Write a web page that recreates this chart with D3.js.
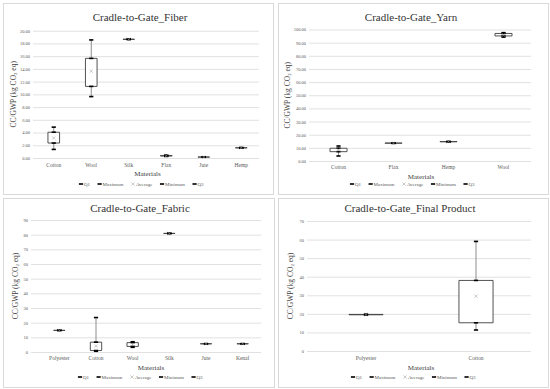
<!DOCTYPE html>
<html><head><meta charset="utf-8">
<script src="https://cdn.jsdelivr.net/npm/d3@7"></script>
<style>
body{margin:0;background:#fff;}
svg{display:block;}
svg text{font-family:"Liberation Serif","Times New Roman",serif !important;}
</style></head>
<body><svg id="c" width="550" height="389"></svg>
<script>
// ---- Data ----
const fiberCats = ["Cotton","Wool","Silk","Flax","Jute","Hemp"];
const fiberMin  = [1.35, 9.65, 18.6, 0.25, 0.12, 1.55];
const fiberQ1   = [2.35, 11.25, 18.65, 0.3, 0.14, 1.58];
const fiberAvg  = [3.15, 13.65, 18.65, 0.35, 0.15, 1.6];
const fiberQ3   = [4.05, 15.65, 18.65, 0.4, 0.16, 1.62];
const fiberMax  = [4.85, 18.55, 18.7, 0.45, 0.18, 1.65];
const fiberTicks = [0,2,4,6,8,10,12,14,16,18,20];

const yarnCats = ["Cotton","Flax","Hemp","Wool"];
const yarnMin  = [3.8, 13.4, 14.5, 94.2];
const yarnQ1   = [7.1, 13.5, 14.6, 95.1];
const yarnAvg  = [8.4, 13.6, 14.7, 95.8];
const yarnQ3   = [9.7, 13.7, 14.8, 97.0];
const yarnMax  = [11.4, 13.8, 14.9, 97.6];
const yarnTicks = [0,10,20,30,40,50,60,70,80,90,100];

const fabricCats = ["Polyester","Cotton","Wool","Silk","Jute","Kenaf"];
const fabricMin  = [14.6, 0.5, 3.2, 80.7, 5.5, 5.5];
const fabricQ1   = [14.7, 1.0, 3.8, 80.8, 5.55, 5.55];
const fabricAvg  = [14.7, 4.0, 5.0, 80.8, 5.6, 5.6];
const fabricQ3   = [14.8, 6.7, 6.4, 80.9, 5.65, 5.65];
const fabricMax  = [14.9, 23.5, 7.0, 81.0, 5.7, 5.7];
const fabricTicks = [0,10,20,30,40,50,60,70,80,90];

const finalCats = ["Polyester","Cotton"];
const finalMin  = [19.4, 11.3];
const finalQ1   = [19.5, 15.2];
const finalAvg  = [19.6, 29.5];
const finalQ3   = [19.7, 38.0];
const finalMax  = [19.8, 59.0];
const finalTicks = [0,10,20,30,40,50,60,70];

const legendItems = ["Q1","Maximum","Average","Minimum","Q3"];

// ---- Panels (layout) ----
const panels = [
  {title:"Cradle-to-Gate_Fiber", cats:fiberCats, mn:fiberMin, q1:fiberQ1, avg:fiberAvg, q3:fiberQ3, mx:fiberMax,
   ticks:fiberTicks, fmt:d3.format(".2f"), frame:[3,3,270,191],
   gridX:[33,259], bandX:[35,260], yR:[158,30.7], titleX:140, titleY:17, ytX:13, xlabY:166, matY:174, legY:184, legCx:141},
  {title:"Cradle-to-Gate_Yarn", cats:yarnCats, mn:yarnMin, q1:yarnQ1, avg:yarnAvg, q3:yarnQ3, mx:yarnMax,
   ticks:yarnTicks, fmt:d3.format(".2f"), frame:[278,3,270,191],
   gridX:[309,531], bandX:[311,531], yR:[161,29.5], titleX:411, titleY:17, ytX:287, xlabY:168, matY:177, legY:184, legCx:412},
  {title:"Cradle-to-Gate_Fabric", cats:fabricCats, mn:fabricMin, q1:fabricQ1, avg:fabricAvg, q3:fabricQ3, mx:fabricMax,
   ticks:fabricTicks, fmt:d3.format("d"), frame:[3,198,271,189],
   gridX:[31,261], bandX:[41,261], yR:[352,220], titleX:140, titleY:208, ytX:15, xlabY:359, matY:368, legY:377, legCx:140},
  {title:"Cradle-to-Gate_Final Product", cats:finalCats, mn:finalMin, q1:finalQ1, avg:finalAvg, q3:finalQ3, mx:finalMax,
   ticks:finalTicks, fmt:d3.format("d"), frame:[278,198,270,189],
   gridX:[307,531], bandX:[311,531], yR:[351,221], titleX:410, titleY:208, ytX:290, xlabY:359, matY:368, legY:377, legCx:413}
];

const FONT = "Liberation Serif";
const svg = d3.select("#c");
svg.append("rect").attr("width",550).attr("height",389).attr("fill","#fff");

panels.forEach(p => {
  const g = svg.append("g").attr("font-family",FONT);
  const [fx,fy,fw,fh] = p.frame;
  g.append("rect").attr("x",fx+0.5).attr("y",fy+0.5).attr("width",fw).attr("height",fh)
    .attr("fill","#fff").attr("stroke","#d9d9d9").attr("stroke-width",1);

  const y = d3.scaleLinear().domain([0, d3.max(p.ticks)]).range(p.yR);
  const x = d3.scaleBand().domain(p.cats).range(p.bandX);

  // gridlines + y tick labels
  const ya = d3.axisLeft(y).tickValues(p.ticks).tickFormat(p.fmt)
    .tickSize(-(p.gridX[1]-p.gridX[0])).tickPadding(3);
  const yg = g.append("g").attr("transform",`translate(${p.gridX[0]},0)`).call(ya);
  yg.attr("font-family",FONT);
  yg.select(".domain").remove();
  yg.selectAll(".tick line").attr("stroke","#d9d9d9").attr("stroke-width",0.8);
  yg.selectAll(".tick text").attr("font-size",4.5).attr("fill","#595959");

  // x labels
  const xa = d3.axisBottom(x).tickSize(0).tickPadding(0);
  const xg = g.append("g").attr("transform",`translate(0,${p.xlabY-3})`).call(xa);
  xg.attr("font-family",FONT);
  xg.select(".domain").remove();
  xg.selectAll(".tick text").attr("font-size",5.5).attr("fill","#595959");

  // title
  g.append("text").attr("x",p.titleX).attr("y",p.titleY)
    .attr("text-anchor","middle").attr("dominant-baseline","central")
    .attr("font-size",11).attr("fill","#333").text(p.title);

  // y axis title
  const cy = (p.yR[0]+p.yR[1])/2;
  const yt = g.append("text").attr("transform",`translate(${p.ytX},${cy}) rotate(-90)`)
    .attr("text-anchor","middle").attr("dominant-baseline","central")
    .attr("font-size",7.5).attr("fill","#404040");
  yt.append("tspan").text("CC/GWP (kg CO");
  yt.append("tspan").attr("font-size",4.8).attr("dy",1.6).text("2");
  yt.append("tspan").attr("dy",-1.6).text(" eq)");

  // Materials
  g.append("text").attr("x",(p.bandX[0]+p.bandX[1])/2).attr("y",p.matY)
    .attr("text-anchor","middle").attr("dominant-baseline","central")
    .attr("font-size",7).attr("fill","#404040").text("Materials");

  // boxes
  const bw = x.bandwidth()*0.31;
  p.cats.forEach((c,i) => {
    const cx = x(c) + x.bandwidth()/2;
    g.append("line").attr("x1",cx).attr("x2",cx).attr("y1",y(p.mx[i])).attr("y2",y(p.mn[i]))
      .attr("stroke","#8c8c8c").attr("stroke-width",1);
    const yt3 = y(p.q3[i]), yb1 = y(p.q1[i]);
    g.append("path")
      .attr("d",`M${cx-bw/2},${yt3}H${cx+bw/2}V${yb1}H${cx-bw/2}Z`)
      .attr("fill","#fff").attr("stroke","#404040").attr("stroke-width",0.9);
    [p.q1[i],p.mx[i],p.mn[i],p.q3[i]].forEach(v => {
      g.append("rect").attr("x",cx-2.1).attr("y",y(v)-0.8).attr("width",4.2).attr("height",1.6)
        .attr("fill","#000");
    });
    const ay = y(p.avg[i]);
    g.append("path").attr("d",`M${cx-1.6},${ay-1.6}L${cx+1.6},${ay+1.6}M${cx-1.6},${ay+1.6}L${cx+1.6},${ay-1.6}`)
      .attr("stroke","#a6a6a6").attr("stroke-width",0.6);
  });

  // legend
  const lg = g.append("g");
  let cur = 0;
  legendItems.forEach(name => {
    const it = lg.append("g");
    if (name === "Average") {
      it.append("path").attr("d","M1,-1.6L4.2,1.6M1,1.6L4.2,-1.6").attr("stroke","#a6a6a6").attr("stroke-width",0.6);
    } else {
      it.append("rect").attr("x",0.5).attr("y",-0.8).attr("width",4.2).attr("height",1.6).attr("fill","#000");
    }
    const t = it.append("text").attr("x",5.5).attr("y",0).attr("dominant-baseline","central")
      .attr("font-size",5).attr("fill","#595959").text(name);
    const w = 5.5 + t.node().getComputedTextLength();
    it.attr("transform",`translate(${cur},0)`);
    cur += w + 7;
  });
  const total = cur - 7;
  lg.attr("transform",`translate(${p.legCx - total/2},${p.legY})`);
});
</script></body></html>
